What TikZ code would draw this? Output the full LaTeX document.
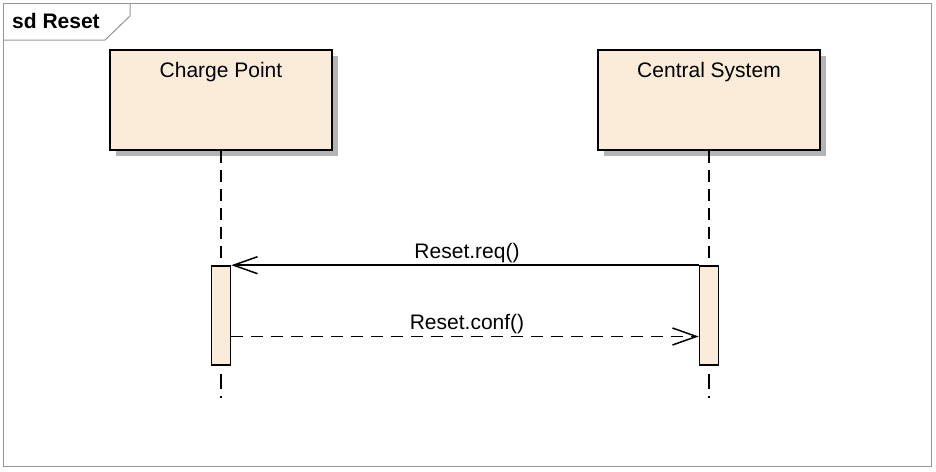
\documentclass[tikz,border=0pt]{standalone}
\usepackage{fontspec}
\setmainfont{Liberation Sans}
\usetikzlibrary{arrows.meta}
\definecolor{boxfill}{RGB}{251,236,218}
\definecolor{frame}{RGB}{150,150,150}
\definecolor{shadow}{RGB}{180,180,180}
\tikzset{
  lifebox/.style={draw=black, line width=1.6pt, fill=boxfill, minimum width=222pt, minimum height=100pt, inner sep=0pt},
  actbar/.style={draw=black, line width=1.6pt, fill=boxfill, minimum width=19pt, minimum height=99pt, inner sep=0pt},
  lifeline/.style={line width=1.5pt, dash pattern=on 12pt off 7pt},
  lifetail/.style={line width=1.5pt, dash pattern=on 15pt off 7pt on 2pt off 20pt},
  msgtext/.style={font=\fontsize{21}{24}\selectfont},
  openarrow/.style={-{Straight Barb[length=24pt,width=17pt,line width=1.5pt]}},
}
\begin{document}
\begin{tikzpicture}[x=1pt,y=-1pt]
\useasboundingbox (0,0) rectangle (936,471);
% frame
\draw[frame, line width=1pt] (3,3) rectangle (931,466);
\node[anchor=south west, inner sep=0pt] (tabtxt) at (12,29) {\fontsize{21}{24}\selectfont\bfseries sd Reset};
\draw[frame, line width=1pt] (3,40) -- (105,40) -- (130,16) -- (130,3);
% shadows
\fill[shadow] (116,56) rectangle (338,156);
\fill[shadow] (604,56) rectangle (826,156);
% lifeline heads
\node[lifebox] (cp) at (221,100) {};
\node[lifebox] (cs) at (709,100) {};
\node[msgtext, anchor=base] (cpt) at (221,77) {Charge Point};
\node[msgtext, anchor=base] (cst) at (709,77) {Central System};
% activation bars
\node[actbar] (cpb) at (221,315.5) {};
\node[actbar] (csb) at (709,315.5) {};
\coordinate (cpend) at (221,398);
\coordinate (csend) at (709,398);
\draw[lifeline] (cp.south) -- (cpb.north);
\draw[lifeline] (cs.south) -- (csb.north);
\draw[lifetail] ([yshift=-8pt]cpb.south) -- (cpend);
\draw[lifetail] ([yshift=-8pt]csb.south) -- (csend);
% messages
\draw[line width=1.5pt, openarrow] (csb.north west) -- (cpb.north east);
\node[msgtext, anchor=base] (req) at (467,258) {Reset.req()};
\draw[line width=1.5pt, dash pattern=on 12pt off 8pt, openarrow] ([yshift=-21pt]cpb.east) -- ([yshift=-21pt]csb.west);
\node[msgtext, anchor=base] (conf) at (467,329) {Reset.conf()};
\end{tikzpicture}
\end{document}
